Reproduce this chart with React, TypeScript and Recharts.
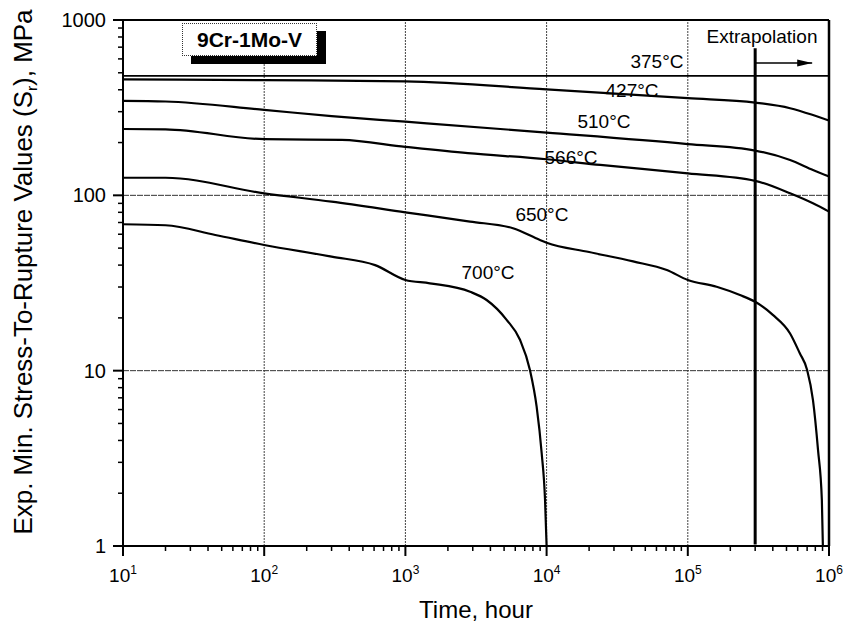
import React from 'react';
import { LineChart, Line, XAxis, YAxis, ReferenceLine, ReferenceDot } from 'recharts';

const FONT = '"Liberation Sans", Arial, sans-serif';

// rupture curves, time in hours / stress in MPa
const time375 = [10, 1e6];
const stress375 = [480, 480];

const time427 = [10, 100, 1000, 1e4, 1e5, 3e5, 5.3e5, 7.7e5, 1e6];
const stress427 = [459, 454, 447, 402, 358, 338, 314, 287, 267];

const time510 = [10, 20, 100, 300, 1000, 1e4, 1e5, 3e5, 5.3e5, 7.7e5, 1e6];
const stress510 = [346, 343, 307, 283, 263, 228, 196, 180, 159, 139.5, 128];

const time566 = [10, 20, 100, 354, 1000, 2770, 1e4, 2.4e4, 1e5, 3e5, 5.3e5, 7.7e5, 1e6];
const stress566 = [239, 238, 209, 207, 189, 174, 160.6, 149, 133.5, 121, 102.7, 90, 80.7];

const time650 = [10, 20, 100, 300, 1000, 2870, 5780, 8970, 1e4, 2e4, 4.1e4, 7.1e4, 1e5, 1.6e5, 2.34e5, 3e5, 4e5, 5.3e5, 6.2e5, 7e5, 7.7e5, 8.36e5, 8.9e5, 9.05e5];
const stress650 = [126, 126, 102.7, 92, 80, 70.8, 64.9, 55.6, 53.7, 47.5, 42, 37.5, 32.9, 30.1, 27, 24.7, 20.8, 16.3, 12.6, 10.1, 6.8, 3.53, 1.83, 1];

const time700 = [10, 20, 45, 100, 300, 610, 1000, 1490, 2870, 3760, 5210, 6480, 7620, 8500, 9230, 9750, 1e4];
const stress700 = [68.4, 67.5, 59.4, 52.1, 44.7, 40, 32.9, 31.5, 28.2, 25.3, 19.5, 15, 10.1, 6.23, 3.38, 1.83, 1];

const curveLabels = ['375°C', '427°C', '510°C', '566°C', '650°C', '700°C'];
const labelTimes = [6.05e4, 4.03e4, 2.55e4, 1.49e4, 9270, 3850];
const labelStress = [583, 399, 265, 165, 78.3, 36.5];

const xMajorTicks = [10, 100, 1000, 1e4, 1e5, 1e6];
const yMajorTicks = [1, 10, 100, 1000];
const yTickLabels = ['1', '10', '100', '1000'];
const minorSteps = [2, 3, 4, 5, 6, 7, 8, 9];

const extrapolationTime = 3e5;

const toPoints = (t: number[], s: number[]) => t.map((v, i) => ({ t: v, s: s[i] }));

const series = [
  toPoints(time375, stress375),
  toPoints(time427, stress427),
  toPoints(time510, stress510),
  toPoints(time566, stress566),
  toPoints(time650, stress650),
  toPoints(time700, stress700),
];

const withMinors = (majors: number[]) =>
  majors.flatMap((d, i) => (i === majors.length - 1 ? [d] : [d, ...minorSteps.map((k) => k * d)]));

const xTicks = withMinors(xMajorTicks);
const yTicks = withMinors(yMajorTicks);

const isMajor = (v: number) => Math.abs(Math.log10(v) - Math.round(Math.log10(v))) < 1e-6;

const XTick = (props: any) => {
  const { x, y, payload } = props;
  const v = Number(payload.value);
  const major = isMajor(v);
  return (
    <g>
      <line x1={x} x2={x} y1={y} y2={y + (major ? 10 : 5)} stroke="#000" strokeWidth={major ? 2 : 1.5} />
      {major && (
        <text x={x} y={y + 36} textAnchor="middle" fontSize={19} fontFamily={FONT} fill="#000">
          10<tspan dy={-8} fontSize={12}>{Math.round(Math.log10(v))}</tspan>
        </text>
      )}
    </g>
  );
};

const YTick = (props: any) => {
  const { x, y, payload } = props;
  const v = Number(payload.value);
  const major = isMajor(v);
  const idx = yMajorTicks.indexOf(v);
  return (
    <g>
      <line x1={x} x2={x - (major ? 10 : 5)} y1={y} y2={y} stroke="#000" strokeWidth={major ? 2 : 1.5} />
      {idx >= 0 && (
        <text x={x - 17} y={y} dy="0.35em" textAnchor="end" fontSize={20} fontFamily={FONT} fill="#000">
          {yTickLabels[idx]}
        </text>
      )}
    </g>
  );
};

export default function App() {
  return (
    <div style={{ position: 'absolute', left: 0, top: 0, width: 846, height: 629, background: '#fff', fontFamily: FONT }}>
      <LineChart width={846} height={629} margin={{ top: 20, right: 17, left: 63, bottom: 53 }}>
        <XAxis
          dataKey="t"
          type="number"
          scale="log"
          domain={[10, 1e6]}
          allowDataOverflow
          ticks={xTicks}
          interval={0}
          tickSize={0}
          tickMargin={0}
          tick={<XTick />}
          height={30}
          axisLine={{ stroke: '#000', strokeWidth: 2 }}
        />
        <YAxis
          type="number"
          scale="log"
          domain={[1, 1000]}
          allowDataOverflow
          ticks={yTicks}
          interval={0}
          tickSize={0}
          tickMargin={0}
          tick={<YTick />}
          width={60}
          axisLine={{ stroke: '#000', strokeWidth: 2 }}
        />
        {xMajorTicks.slice(1, -1).map((v) => (
          <ReferenceLine key={'gx' + v} x={v} stroke="#444" strokeWidth={1} strokeDasharray="2 1" />
        ))}
        {yMajorTicks.slice(1, -1).map((v) => (
          <ReferenceLine key={'gy' + v} y={v} stroke="#333" strokeWidth={1} strokeDasharray="6 1" />
        ))}
        <ReferenceLine y={1000} stroke="#000" strokeWidth={2} />
        <ReferenceLine x={1e6} stroke="#000" strokeWidth={2.5} />
        {series.map((d, i) => (
          <Line
            key={i}
            data={d}
            dataKey="s"
            type="monotone"
            dot={false}
            stroke="#000"
            strokeWidth={i === 0 ? 1.8 : 2.2}
            isAnimationActive={false}
          />
        ))}
        <ReferenceLine
          segment={[{ x: extrapolationTime, y: 690 }, { x: extrapolationTime, y: 1.02 }]}
          stroke="#000"
          strokeWidth={3}
        />
        <ReferenceLine
          segment={[{ x: extrapolationTime, y: 569 }, { x: 7.6e5, y: 569 }]}
          shape={(p: any) => (
            <g>
              <line x1={p.x1} y1={p.y1} x2={p.x2} y2={p.y2} stroke="#000" strokeWidth={1.5} />
              <polygon
                points={`${p.x2},${p.y2} ${p.x2 - 15},${p.y2 - 3.5} ${p.x2 - 15},${p.y2 + 3.5}`}
                fill="#000"
              />
            </g>
          )}
        />
        {curveLabels.map((txt, i) => (
          <ReferenceDot
            key={txt}
            x={labelTimes[i]}
            y={labelStress[i]}
            r={0}
            shape={(p: any) => (
              <text x={p.cx} y={p.cy} dy="0.35em" textAnchor="middle" fontSize={19} fontFamily={FONT} fill="#000">
                {txt}
              </text>
            )}
          />
        ))}
        <text x={762} y={43} textAnchor="middle" fontSize={19} fontFamily={FONT} fill="#000">
          Extrapolation
        </text>
        <text x={476} y={618} textAnchor="middle" fontSize={24} fontFamily={FONT} fill="#000">
          Time, hour
        </text>
        <text
          x={32}
          y={272}
          transform="rotate(-90, 32, 272)"
          textAnchor="middle"
          fontSize={25}
          fontFamily={FONT}
          fill="#000"
          textLength={525}
          lengthAdjust="spacingAndGlyphs"
        >
          Exp. Min. Stress-To-Rupture Values (S<tspan dy={5} fontSize={15}>r</tspan><tspan dy={-5}>), MPa</tspan>
        </text>
      </LineChart>
      <div
        style={{
          position: 'absolute',
          left: 182,
          top: 23,
          width: 135,
          height: 33,
          boxSizing: 'border-box',
          border: '1px dotted #333',
          background: '#fff',
          boxShadow: '9px 8px 0 #000',
          fontWeight: 'bold',
          fontSize: 21,
          lineHeight: '31px',
          textAlign: 'center',
          color: '#000',
        }}
      >
        9Cr-1Mo-V
      </div>
    </div>
  );
}
